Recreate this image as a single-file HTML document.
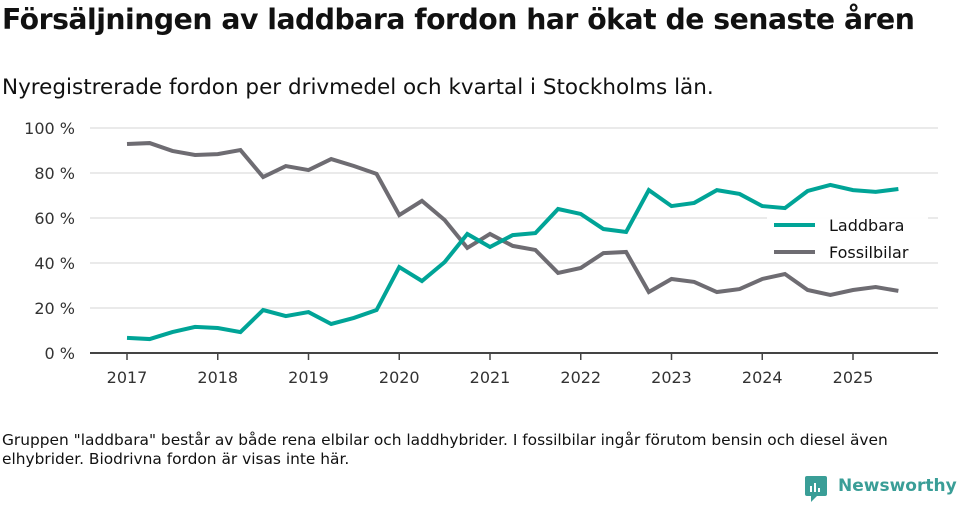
<!DOCTYPE html>
<html><head><meta charset="utf-8"><style>
body{margin:0;width:960px;height:505px;background:#fff;font-family:"Liberation Sans","DejaVu Sans",sans-serif;overflow:hidden;position:relative}
.t{position:absolute;left:2px;top:3px;font-size:28.3px;font-weight:bold;color:#111;font-family:"DejaVu Sans",sans-serif;letter-spacing:-0.5px;white-space:nowrap}
.s{position:absolute;left:2px;top:75px;font-size:21.5px;color:#111;font-family:"DejaVu Sans",sans-serif;white-space:nowrap}
.f{position:absolute;left:2px;top:431px;font-size:15.4px;color:#111;line-height:19px;width:920px;font-family:"DejaVu Sans",sans-serif}
.logo{position:absolute;left:805px;top:476px;font-size:17px;color:#3a9e97;font-weight:bold;font-family:"DejaVu Sans",sans-serif;white-space:nowrap}
svg{position:absolute;left:0;top:0}
svg text{font-family:"DejaVu Sans",sans-serif}
</style></head><body>
<div class="t">Försäljningen av laddbara fordon har ökat de senaste åren</div>
<div class="s">Nyregistrerade fordon per drivmedel och kvartal i Stockholms län.</div>
<svg id="c" width="960" height="505"></svg>
<div class="f">Gruppen "laddbara" består av både rena elbilar och laddhybrider. I fossilbilar ingår förutom bensin och diesel även elhybrider. Biodrivna fordon är visas inte här.</div>
<div class="logo"><svg width="24" height="28" style="position:absolute;left:0;top:0"><rect x="0" y="0" width="22" height="20" rx="2" fill="#3a9e97"/><polygon points="6,20 12,20 6,26" fill="#3a9e97"/><rect x="5" y="10" width="2" height="6" fill="#fff"/><rect x="9" y="7" width="2" height="9" fill="#fff"/><rect x="13" y="12" width="2" height="4" fill="#fff"/></svg><span style="margin-left:33px">Newsworthy</span></div>
<script>
const years=["2017","2018","2019","2020","2021","2022","2023","2024","2025"];
const yTicks=[0,20,40,60,80,100];
const laddbara=[6.7,6.2,9.3,11.6,11.1,9.3,19.1,16.4,18.2,12.9,15.6,19.1,38.2,32,40.4,52.9,47.1,52.4,53.3,64,61.8,55.1,53.8,72.4,65.3,66.7,72.4,70.7,65.3,64.4,72,74.7,72.4,71.6,72.9];
const fossil=[92.9,93.3,89.8,88,88.4,90.2,78.2,83.1,81.3,86.2,83.1,79.6,61.3,67.6,59.1,46.7,52.9,47.6,45.8,35.6,37.8,44.4,44.9,27.1,32.9,31.6,27.1,28.4,32.9,35.1,28,25.8,28,29.3,27.6];
const svg=document.getElementById('c');const NS='http://www.w3.org/2000/svg';
function X(q){return 127+q*(853-127)/32;}
function Y(v){return 353-v*2.25;}
function mk(t,a){const e=document.createElementNS(NS,t);for(const k in a)e.setAttribute(k,a[k]);svg.appendChild(e);return e;}
yTicks.forEach(v=>{
 if(v>0){const g=mk('line',{x1:90,x2:938,y1:Y(v),y2:Y(v),stroke:'#ddd','stroke-width':1.3});
 
 }
 const t=mk('text',{x:75,y:Y(v)+6,'text-anchor':'end','font-size':16,fill:'#333'});t.textContent=v+' %';
 
 
});
const ax=mk('line',{x1:90,x2:938,y1:353,y2:353,stroke:'#444','stroke-width':2});


years.forEach((y,i)=>{const x=X(i*4);
 mk('line',{x1:x,x2:x,y1:353,y2:360,stroke:'#444','stroke-width':1.5});
 const t=mk('text',{x:x,y:383,'text-anchor':'middle','font-size':16,fill:'#333'});t.textContent=y;
 
 
});
function line(d,c,n){const p=mk('polyline',{points:d.map((v,i)=>X(i)+','+Y(v)).join(' '),fill:'none',stroke:c,'stroke-width':4,'stroke-linejoin':'miter'});
 
 }
line(fossil,'#6e6c72','fossilbilar-line');
line(laddbara,'#00a497','laddbara-line');
const lb=mk('rect',{x:767,y:217,width:161,height:45,fill:'#fff',opacity:0.9});


[['Laddbara','#00a497'],['Fossilbilar','#6e6c72']].forEach((e,i)=>{const y=225+i*27;
 mk('line',{x1:774,x2:815,y1:y,y2:y,stroke:e[1],'stroke-width':4});
 const t=mk('text',{x:829,y:y+6,'font-size':16,fill:'#111'});t.textContent=e[0];
 
 
});
</script>
</body></html>
